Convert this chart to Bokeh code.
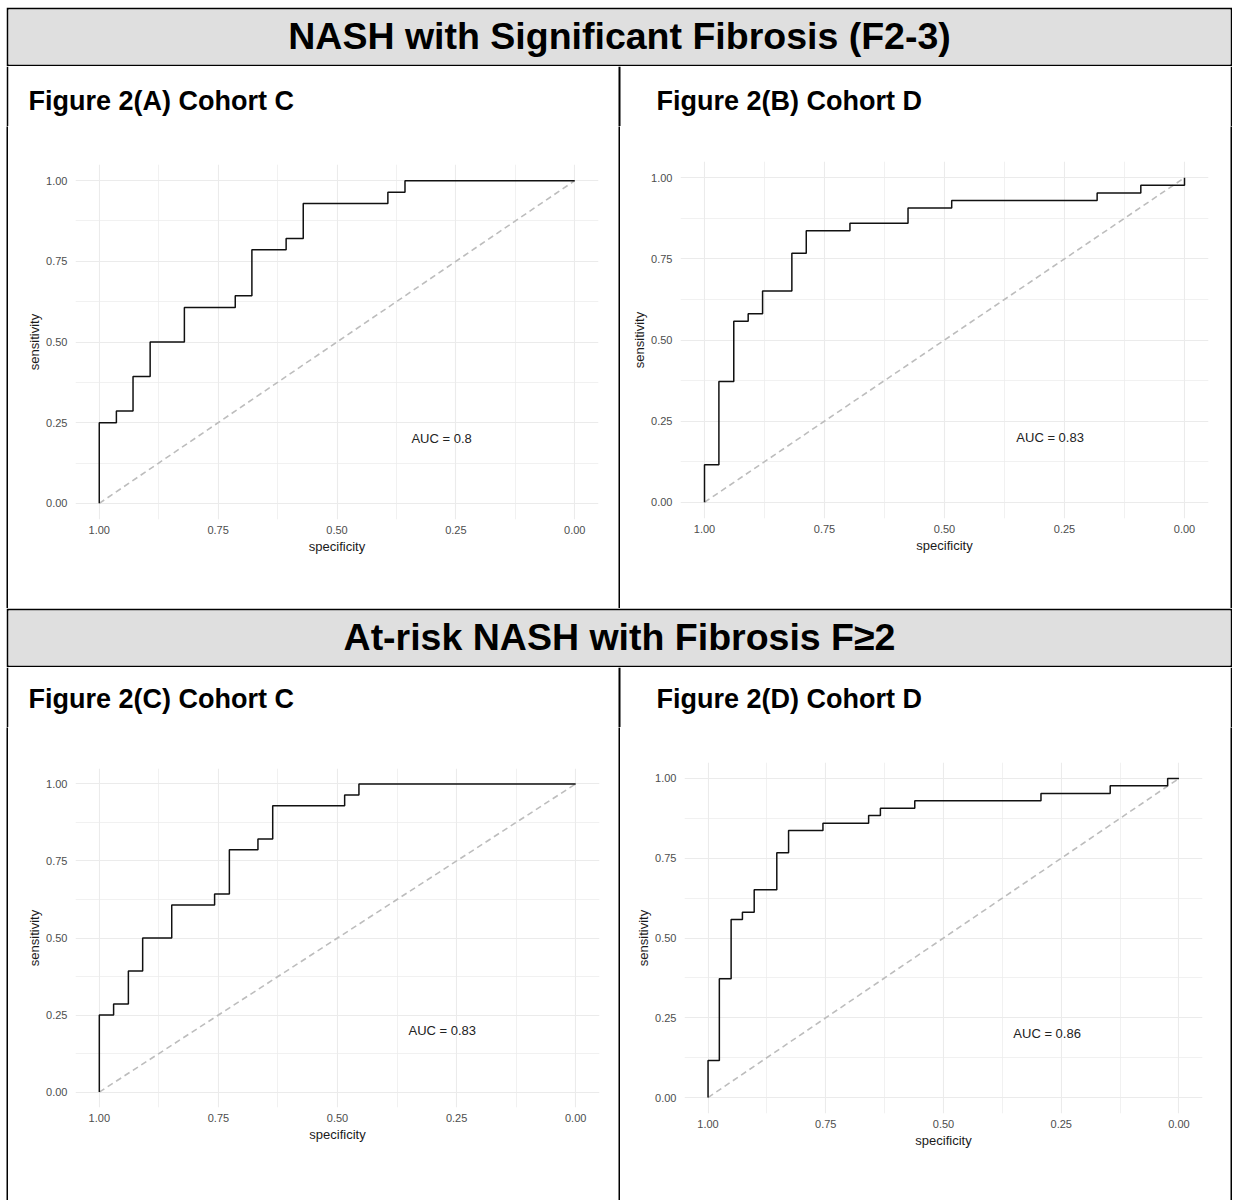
from bokeh.plotting import figure
from bokeh.layouts import column, row, Spacer
from bokeh.models import Range1d, FixedTicker, PrintfTickFormatter, Label
from bokeh.embed import file_html
from bokeh.resources import INLINE

FONT = "Liberation Sans"

# ---------------- data ----------------
header_titles = ["NASH with Significant Fibrosis (F2-3)", "At-risk NASH with Fibrosis F\u22652"]
panel_titles = ["Figure 2(A) Cohort C", "Figure 2(B) Cohort D",
                "Figure 2(C) Cohort C", "Figure 2(D) Cohort D"]
auc_texts = ["AUC = 0.8", "AUC = 0.83", "AUC = 0.83", "AUC = 0.86"]

tick_values = [0.0, 0.25, 0.5, 0.75, 1.0]
minor_tick_values = [0.125, 0.375, 0.625, 0.875]
x_label = "specificity"
y_label = "sensitivity"

diag_spec = [1.0, 0.0]
diag_sens = [0.0, 1.0]
auc_spec = 0.28
auc_sens = 0.2

spec_A = [1.000, 1.000, 0.964, 0.964, 0.929, 0.929, 0.893, 0.893, 0.821, 0.821, 0.714, 0.714,
          0.679, 0.679, 0.607, 0.607, 0.571, 0.571, 0.393, 0.393, 0.357, 0.357, 0.000]
sens_A = [0.000, 0.250, 0.250, 0.286, 0.286, 0.393, 0.393, 0.500, 0.500, 0.607, 0.607, 0.643,
          0.643, 0.786, 0.786, 0.821, 0.821, 0.929, 0.929, 0.964, 0.964, 1.000, 1.000]

spec_B = [1.000, 1.000, 0.970, 0.970, 0.939, 0.939, 0.909, 0.909, 0.879, 0.879, 0.818, 0.818, 0.788,
          0.788, 0.697, 0.697, 0.576, 0.576, 0.485, 0.485, 0.182, 0.182, 0.091, 0.091, 0.000, 0.000]
sens_B = [0.000, 0.116, 0.116, 0.372, 0.372, 0.558, 0.558, 0.581, 0.581, 0.651, 0.651, 0.767, 0.767,
          0.837, 0.837, 0.860, 0.860, 0.907, 0.907, 0.930, 0.930, 0.953, 0.953, 0.977, 0.977, 1.000]

spec_C = [1.000, 1.000, 0.970, 0.970, 0.939, 0.939, 0.909, 0.909, 0.848, 0.848, 0.758, 0.758,
          0.727, 0.727, 0.667, 0.667, 0.636, 0.636, 0.485, 0.485, 0.455, 0.455, 0.000]
sens_C = [0.000, 0.250, 0.250, 0.286, 0.286, 0.393, 0.393, 0.500, 0.500, 0.607, 0.607, 0.643,
          0.643, 0.786, 0.786, 0.821, 0.821, 0.929, 0.929, 0.964, 0.964, 1.000, 1.000]

spec_D = [1.000, 1.000, 0.976, 0.976, 0.951, 0.951, 0.927, 0.927, 0.902, 0.902, 0.854, 0.854, 0.829,
          0.829, 0.756, 0.756, 0.659, 0.659, 0.634, 0.634, 0.561, 0.561, 0.293, 0.293, 0.146, 0.146,
          0.024, 0.024, 0.000]
sens_D = [0.000, 0.116, 0.116, 0.372, 0.372, 0.558, 0.558, 0.581, 0.581, 0.651, 0.651, 0.767, 0.767,
          0.837, 0.837, 0.860, 0.860, 0.884, 0.884, 0.907, 0.907, 0.930, 0.930, 0.953, 0.953, 0.977,
          0.977, 1.000, 1.000]

# ---------------- layout / style ----------------
OFF_X, OFF_Y = 6, 7
LINE = 2
PANEL_W = 610
TOTAL_W = 3 * LINE + 2 * PANEL_W
HEADER_H = [59, 59]          # includes the 2px black rules above and below
ROW_H = [542, 533]
TITLE_H = 60                 # strip holding the "Figure 2(x) ..." titles at the top of each row
# (left, right, top, bottom) borders around the plotting frame, measured from the panel box
MARGINS = [(67, 20, 98, 89), (60, 22, 95, 90), (67, 19, 101, 93), (64, 28, 95, 87)]
TITLE_POS = [(20, 34), (36, 34), (20, 31), (36, 31)]


def blank(w, h, fill):
    p = figure(width=w, height=h, min_border=0, toolbar_location=None, output_backend="svg",
               x_range=Range1d(0, w), y_range=Range1d(0, h), title=None,
               x_axis_location=None, y_axis_location=None,
               background_fill_color=fill, border_fill_color=fill, outline_line_color=None)
    p.grid.visible = False
    return p


def header(text, w, h):
    p = figure(width=w, height=h, min_border=LINE, toolbar_location=None, output_backend="svg",
               x_range=Range1d(0, w - 2 * LINE), y_range=Range1d(0, h - 2 * LINE), title=None,
               x_axis_location=None, y_axis_location=None,
               background_fill_color="#dfdfdf", border_fill_color="black", outline_line_color=None)
    p.grid.visible = False
    p.add_layout(Label(x=(w - 2 * LINE) / 2, y=(h - 2 * LINE) / 2 + 1, text=text, text_align="center",
                       text_baseline="middle", text_font=FONT, text_font_style="bold",
                       text_font_size="37.5px", text_color="black"))
    return p


def title_strip(w, titles, positions):
    # frame spans canvas x in [LINE, w - LINE]; data x == canvas x
    p = figure(width=w, height=TITLE_H, toolbar_location=None, output_backend="svg", title=None,
               min_border_left=LINE, min_border_right=LINE, min_border_top=0, min_border_bottom=0,
               x_range=Range1d(LINE, w - LINE), y_range=Range1d(0, TITLE_H),
               x_axis_location=None, y_axis_location=None,
               background_fill_color="white", border_fill_color="black", outline_line_color=None)
    p.grid.visible = False
    mid = LINE + PANEL_W
    p.quad(left=[mid], right=[mid + LINE], bottom=[0], top=[TITLE_H],
           fill_color="black", line_color=None)
    starts = [LINE, 2 * LINE + PANEL_W]
    for x0, text, (tx, ty) in zip(starts, titles, positions):
        p.add_layout(Label(x=x0 + tx, y=TITLE_H - ty, text=text, text_align="left",
                           text_baseline="middle", text_font=FONT, text_font_style="bold",
                           text_font_size="27px", text_color="black"))
    return p


def panel(w, h, margins, spec, sens, auc):
    l, r, t, b = margins
    p = figure(width=w, height=h - TITLE_H, toolbar_location=None, output_backend="svg", title=None,
               x_range=Range1d(1.05, -0.05), y_range=Range1d(-0.05, 1.05),
               min_border_left=l, min_border_right=r, min_border_top=t - TITLE_H,
               min_border_bottom=b,
               background_fill_color="white", border_fill_color="white", outline_line_color=None)
    for ax in (p.xaxis[0], p.yaxis[0]):
        ax.ticker = FixedTicker(ticks=tick_values, minor_ticks=minor_tick_values)
        ax.formatter = PrintfTickFormatter(format="%.2f")
        ax.axis_line_color = None
        ax.major_tick_line_color = None
        ax.minor_tick_line_color = None
        ax.major_tick_out = 0
        ax.major_tick_in = 0
        ax.minor_tick_out = 0
        ax.minor_tick_in = 0
        ax.major_label_text_font = FONT
        ax.major_label_text_font_size = "11px"
        ax.major_label_text_color = "#4d4d4d"
        ax.axis_label_text_font = FONT
        ax.axis_label_text_font_size = "13px"
        ax.axis_label_text_font_style = "normal"
        ax.axis_label_text_color = "#1a1a1a"
    p.xaxis.axis_label = x_label
    p.yaxis.axis_label = y_label
    p.xaxis.major_label_standoff = 6
    p.yaxis.major_label_standoff = 8
    p.xaxis.axis_label_standoff = 2
    p.yaxis.axis_label_standoff = 1

    p.grid.grid_line_color = "#ebebeb"
    p.grid.grid_line_width = 1.1
    p.grid.minor_grid_line_color = "#ebebeb"
    p.grid.minor_grid_line_width = 0.7

    p.line(diag_spec, diag_sens, line_color="#bdbdbd", line_width=1.6, line_dash="6 4")
    p.line(spec, sens, line_color="#111111", line_width=1.5)
    p.add_layout(Label(x=auc_spec, y=auc_sens, text=auc, text_align="center", text_baseline="middle",
                       text_font=FONT, text_font_size="13px", text_color="#222222"))
    return p


specs = [spec_A, spec_B, spec_C, spec_D]
senss = [sens_A, sens_B, sens_C, sens_D]

items = [Spacer(width=TOTAL_W, height=OFF_Y)]
for k in range(2):
    rh = ROW_H[k]
    items.append(header(header_titles[k], TOTAL_W, HEADER_H[k]))
    items.append(title_strip(TOTAL_W, panel_titles[2 * k:2 * k + 2], TITLE_POS[2 * k:2 * k + 2]))
    cells = [column(blank(LINE, rh - TITLE_H, "black"))]
    for j in range(2):
        i = 2 * k + j
        # each panel in its own column so that neighbouring frames are not aligned
        cells.append(column(panel(PANEL_W, rh, MARGINS[i], specs[i], senss[i], auc_texts[i])))
        cells.append(column(blank(LINE, rh - TITLE_H, "black")))
    items.append(row(*cells))

layout = row(Spacer(width=OFF_X, height=10), column(*items))

open("out.html", "w").write(file_html(layout, INLINE))
